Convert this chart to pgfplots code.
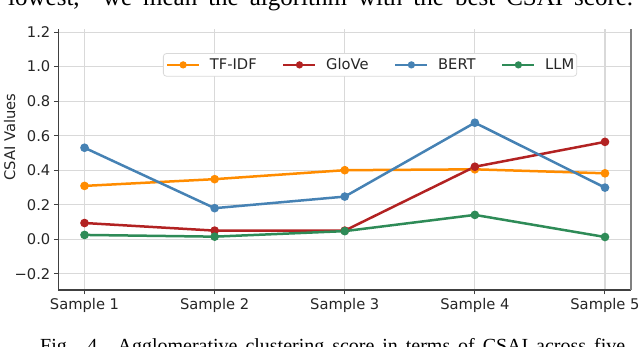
\documentclass[border=0pt]{standalone}
\usepackage{pgfplots}
\pgfplotsset{compat=1.18}
\usepackage{fontspec}
\setmainfont{DejaVu Sans}
\newfontfamily\paperfont{Liberation Serif}
\definecolor{cTF}{HTML}{FF8C00}
\definecolor{cGl}{HTML}{B22222}
\definecolor{cBE}{HTML}{4682B4}
\definecolor{cLL}{HTML}{2E8B57}
\newcommand{\tfont}{\fontsize{14.7}{17}\selectfont}
\begin{document}
\begin{tikzpicture}
\useasboundingbox (0pt,0pt) rectangle (640pt,347pt);
\clip (0pt,0pt) rectangle (640pt,347pt);
\node[anchor=base west, inner sep=0, font=\paperfont\fontsize{25}{30}\selectfont] at (8pt,341.3pt) {\makebox[625pt][s]{lowest, “we mean the algorithm with the best CSAI score.}};
\node[anchor=base west, inner sep=0, font=\paperfont\fontsize{20}{24}\selectfont] at (40pt,-6pt) {\makebox[585pt][s]{Fig. 4. Agglomerative clustering score in terms of CSAI across five}};
\begin{axis}[
  at={(58.5pt,57pt)}, anchor=south west, scale only axis,
  width=572.5pt, height=260.5pt,
  xmin=-0.2, xmax=4.2, ymin=-0.294, ymax=1.215,
  xtick={0,1,2,3,4},
  xticklabels={Sample 1,Sample 2,Sample 3,Sample 4,Sample 5},
  ytick={-0.2,0,0.2,0.4,0.6,0.8,1.0,1.2},
  yticklabels={−0.2,0.0,0.2,0.4,0.6,0.8,1.0,1.2},
  grid=major,
  major grid style={draw=black!15, line width=1.1pt},
  axis line style={draw=none},
  tick align=outside, xtick pos=bottom, ytick pos=left,
  major tick length=4.5pt,
  tick style={black!75, line width=1pt},
  ticklabel style={font=\tfont, text=black!85},
  yticklabel style={inner xsep=3.5pt},
  xticklabel style={inner ysep=3.5pt},
  clip=false,
  legend columns=4,
  legend image code/.code={%
    \draw[mark repeat=2,mark phase=2,mark size=2.3pt] plot coordinates {(0pt,0pt) (16pt,0pt) (32pt,0pt)};},
  legend style={
    at={(axis cs:0.603,1.01)}, anchor=west,
    font=\tfont, text=black!85,
    draw=black!15, line width=0.8pt, rounded corners=3pt, fill=white,
    inner xsep=2.5pt, inner ysep=3pt,
    nodes={inner xsep=0pt, inner ysep=2pt},
    /tikz/every odd column/.append style={column sep=9.5pt},
    /tikz/every even column/.append style={column sep=25.5pt},
  },
  every axis plot/.append style={line width=2.5pt, mark=*, mark size=3pt},
]
\addplot[cTF, mark options={fill=cTF, draw=cTF}] coordinates {(0,0.309) (1,0.348) (2,0.400) (3,0.405) (4,0.382)};
\addlegendentry{TF-IDF}
\addplot[cGl, mark options={fill=cGl, draw=cGl}] coordinates {(0,0.094) (1,0.050) (2,0.050) (3,0.420) (4,0.564)};
\addlegendentry{GloVe}
\addplot[cBE, mark options={fill=cBE, draw=cBE}] coordinates {(0,0.530) (1,0.180) (2,0.247) (3,0.675) (4,0.299)};
\addlegendentry{BERT}
\addplot[cLL, mark options={fill=cLL, draw=cLL}] coordinates {(0,0.025) (1,0.015) (2,0.047) (3,0.141) (4,0.013)};
\addlegendentry{LLM}
\draw[black!75, line width=1.2pt] (rel axis cs:0,1) -- (rel axis cs:0,0) -- (rel axis cs:1,0);
\draw[black!50, line width=1.5pt] (rel axis cs:1,0) -- (rel axis cs:1,1);
\end{axis}
\node[rotate=90, inner sep=0, font=\tfont, text=black!85] at (9.6pt,210pt) {CSAI Values};
\end{tikzpicture}
\end{document}
